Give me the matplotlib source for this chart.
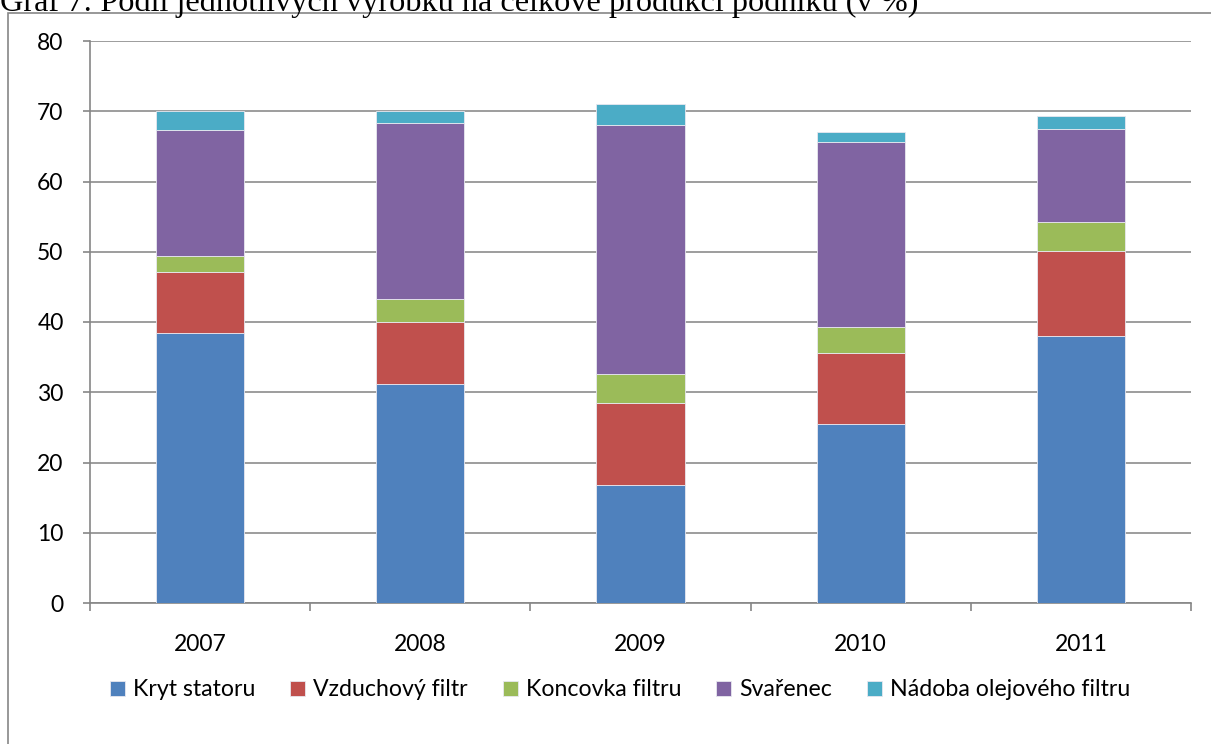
import matplotlib.pyplot as plt
import numpy as np
from matplotlib.patches import Rectangle

years = ['2007', '2008', '2009', '2010', '2011']
series = ['Kryt statoru', 'Vzduchový filtr', 'Koncovka filtru', 'Svařenec',
          'Nádoba olejového filtru']
kryt = [38.5, 31.2, 16.8, 25.5, 38.0]
vzduch = [8.6, 8.8, 11.7, 10.1, 12.1]
koncovka = [2.3, 3.3, 4.1, 3.7, 4.2]
svarenec = [18.0, 25.0, 35.5, 26.3, 13.2]
nadoba = [2.6, 1.7, 2.9, 1.4, 1.8]
colors = ['#4F81BD', '#C0504D', '#9BBB59', '#8064A2', '#4BACC6']

W, H = 1211, 744
fig = plt.figure(figsize=(W / 100, H / 100), dpi=100)

# caption above the chart, mostly cut off by the top edge
fig.text(0, (H - 11) / H, 'Graf 7: Podíl jednotlivých výrobků na celkové produkci podniku (v %)',
         family='Liberation Serif', fontsize=23.2, va='baseline', ha='left')

# chart area frame
fig.patches.append(Rectangle((8 / W, -0.1), 1.2, (H - 13) / H + 0.1,
                             transform=fig.transFigure, fill=False,
                             edgecolor='#868686', lw=1.2))

ax = fig.add_axes([90 / W, (H - 603) / H, (1191 - 90) / W, (603 - 41) / H])
x = np.arange(len(years))
bottom = np.zeros(len(years))
for name, vals, c in zip(series, [kryt, vzduch, koncovka, svarenec, nadoba], colors):
    ax.bar(x, vals, 0.4, bottom=bottom, color=c, label=name,
           edgecolor='#e8e8f0', lw=0.6, zorder=3)
    bottom += np.array(vals)

ax.set_xlim(-0.5, len(years) - 0.5)
ax.set_ylim(0, 80)
ax.set_yticks(range(0, 81, 10))
ax.yaxis.grid(True, color='#8c8c8c', lw=1.2, zorder=0)
ax.set_xticks(x)
ax.set_xticklabels(years)
ax.set_xticks(np.arange(-0.5, len(years)), minor=True)
ax.tick_params(axis='x', which='major', length=0, pad=22, labelsize=16.5)
ax.tick_params(axis='x', which='minor', length=6, color='#868686', width=1.2)
ax.tick_params(axis='y', length=5, color='#868686', width=1.2, labelsize=16.5, pad=14)
for lbl in ax.get_xticklabels() + ax.get_yticklabels():
    lbl.set_family('Lato')
for s in ['top', 'right']:
    ax.spines[s].set_visible(False)
for s in ['left', 'bottom']:
    ax.spines[s].set_color('#868686')
    ax.spines[s].set_linewidth(1.2)

leg = fig.legend(loc='center', bbox_to_anchor=(620 / W, (H - 690) / H), ncol=5,
                 frameon=False, prop={'family': 'Lato', 'size': 16.7},
                 handlelength=0.65, handleheight=0.65, handletextpad=0.35,
                 columnspacing=1.5)

fig.savefig('out.png', dpi=100)
